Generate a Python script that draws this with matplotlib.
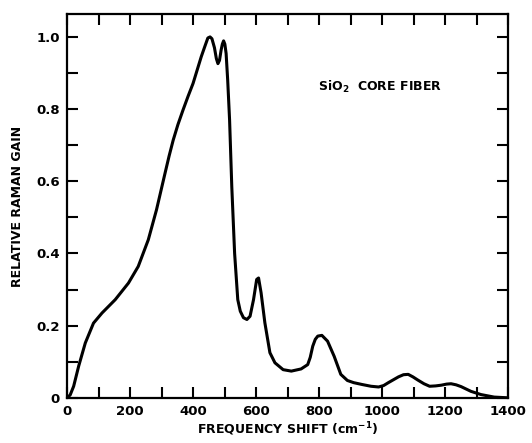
import numpy as np
from matplotlib import pyplot as plt
from matplotlib.ticker import MultipleLocator

# points
shift = [0, 10, 21, 37, 58, 84, 111, 153, 195, 226, 258, 284, 311, 324, 337, 352,
         368, 384, 400, 426, 438, 447, 454, 460, 468, 474, 479, 484, 489, 493,
         497, 501, 505, 510, 516, 523, 532, 542, 550, 560, 571, 581, 592, 602,
         608, 616, 628, 644, 660, 686, 712, 743, 764, 772, 780, 788, 796, 809,
         827, 848, 869, 890, 910, 936, 965, 989, 1005, 1020, 1036, 1052, 1068,
         1083, 1098, 1114, 1133, 1151, 1170, 1188, 1205, 1219, 1235, 1251, 1282,
         1314, 1356, 1400]
gain = [0.0, 0.008, 0.032, 0.088, 0.152, 0.207, 0.235, 0.272, 0.318, 0.364, 0.438,
        0.521, 0.622, 0.670, 0.714, 0.757, 0.797, 0.835, 0.871, 0.945, 0.975,
        0.997, 1.0, 0.995, 0.97, 0.94, 0.926, 0.935, 0.963, 0.98, 0.989, 0.98,
        0.954, 0.88, 0.77, 0.585, 0.40, 0.272, 0.24, 0.222, 0.217, 0.226, 0.272,
        0.328, 0.332, 0.291, 0.208, 0.125, 0.097, 0.078, 0.074, 0.080, 0.092,
        0.112, 0.143, 0.162, 0.171, 0.173, 0.157, 0.115, 0.065, 0.048, 0.042,
        0.037, 0.032, 0.030, 0.034, 0.042, 0.050, 0.058, 0.064, 0.065, 0.058,
        0.049, 0.039, 0.032, 0.033, 0.035, 0.038, 0.039, 0.036, 0.031, 0.018,
        0.009, 0.002, 0.0]

plt.rcParams['font.family'] = ['DejaVu Sans']
plt.rcParams['font.weight'] = 'bold'

fig = plt.figure(figsize=(5.32, 4.43), dpi=100)
ax = fig.add_axes([0.126, 0.102, 0.829, 0.866])

ax.plot(shift, gain, color='black', linewidth=2.2,
        solid_capstyle='round', solid_joinstyle='round')

ax.set_xlim(0, 1400)
ax.set_ylim(0, 1.063)
ax.xaxis.set_major_locator(MultipleLocator(200))
ax.xaxis.set_minor_locator(MultipleLocator(100))
ax.yaxis.set_minor_locator(MultipleLocator(0.1))
ax.set_yticks([0, 0.2, 0.4, 0.6, 0.8, 1.0])
ax.set_yticklabels(['0', '0.2', '0.4', '0.6', '0.8', '1.0'])
ax.tick_params(which='both', direction='in', top=True, right=True,
               length=8, width=1.5, labelsize=9.5, pad=5)

for s in ax.spines.values():
    s.set_linewidth(1.6)

ax.set_xlabel('FREQUENCY SHIFT (cm$^{-1}$)', fontsize=9, fontweight='bold', labelpad=2)
ax.set_ylabel('RELATIVE RAMAN GAIN', fontsize=9, fontweight='bold', labelpad=9)
ax.text(994, 0.86, 'SiO$_2$  CORE FIBER', fontsize=9, fontweight='bold',
        ha='center', va='center')

plt.savefig('out.png', dpi=100)
